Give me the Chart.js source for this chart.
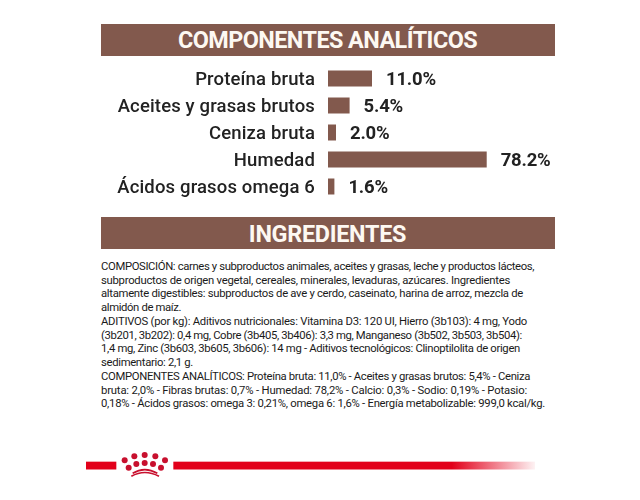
<!DOCTYPE html>
<html lang="es">
<head>
<meta charset="utf-8">
<script src="https://cdn.jsdelivr.net/npm/chart.js@4"></script>
<style>
  html, body { margin: 0; padding: 0; background: #fff; width: 640px; height: 500px; overflow: hidden; }
  .band {
    position: absolute; left: 100.5px; width: 454px; background: #82594d; color: #fdf8f2;
    font: 700 23.4px Roboto, sans-serif; text-align: center;
  }
  #band1 { top: 23.5px; height: 32px; line-height: 33px; letter-spacing: -0.55px; }
  #band2 { top: 217px; height: 31.5px; line-height: 34px; letter-spacing: -0.3px; }
  #chartBox { position: absolute; left: 0; top: 65px; width: 640px; height: 135px; }
  #ingredients {
    position: absolute; left: 101px; top: 260px; color: #1a1a1a;
    font: 400 11.3px/13.73px Roboto, sans-serif; white-space: nowrap;
  }
  #ingredients span { display: table; }
  #footer { position: absolute; left: 70px; top: 430px; }
</style>
</head>
<body>
<div class="band" id="band1"></div>
<div id="chartBox"><canvas id="chart"></canvas></div>
<div class="band" id="band2"></div>
<div id="ingredients"></div>
<svg id="footer" width="480" height="60" viewBox="0 0 1440 180">
  <defs>
    <linearGradient id="fade" x1="310" x2="1395" y1="0" y2="0" gradientUnits="userSpaceOnUse">
      <stop offset="0" stop-color="#e2001a"/>
      <stop offset="0.77" stop-color="#e2001a"/>
      <stop offset="1" stop-color="#e2001a" stop-opacity="0.05"/>
    </linearGradient>
  </defs>
  <rect x="48" y="95" width="91" height="23.5" fill="#e2001a"/>
  <rect x="310" y="95" width="1085" height="23.5" fill="url(#fade)"/>
  <g fill="#c8102e">
    <circle cx="164" cy="91" r="9"/><circle cx="193" cy="79" r="9"/><circle cx="224" cy="75" r="9"/>
    <circle cx="256" cy="79" r="9"/><circle cx="285" cy="91" r="9"/>
    <circle cx="176" cy="113" r="9"/><circle cx="199" cy="102" r="9"/><circle cx="224" cy="99" r="9"/>
    <circle cx="249" cy="102" r="9"/><circle cx="273" cy="113" r="9"/>
  </g>
  <g fill="none" stroke="#c8102e" stroke-width="5">
    <path d="M188 130 Q224 108 262 130"/>
    <path d="M184 139 Q224 116 267 139"/>
  </g>
</svg>
<script>
const titleTop = "COMPONENTES ANALÍTICOS";
const titleBottom = "INGREDIENTES";
const categories = ["Proteína bruta", "Aceites y grasas brutos", "Ceniza bruta", "Humedad", "Ácidos grasos omega 6"];
const values = [11.0, 5.4, 2.0, 78.2, 1.6];
const valueLabels = ["11.0%", "5.4%", "2.0%", "78.2%", "1.6%"];
const ingredientLines = [
  "COMPOSICIÓN: carnes y subproductos animales, aceites y grasas, leche y productos lácteos,",
  "subproductos de origen vegetal, cereales, minerales, levaduras, azúcares. Ingredientes",
  "altamente digestibles: subproductos de ave y cerdo, caseinato, harina de arroz, mezcla de",
  "almidón de maíz.",
  "ADITIVOS (por kg): Aditivos nutricionales: Vitamina D3: 120 UI, Hierro (3b103): 4 mg, Yodo",
  "(3b201, 3b202): 0,4 mg, Cobre (3b405, 3b406): 3,3 mg, Manganeso (3b502, 3b503, 3b504):",
  "1,4 mg, Zinc (3b603, 3b605, 3b606): 14 mg - Aditivos tecnológicos: Clinoptilolita de origen",
  "sedimentario: 2,1 g.",
  "COMPONENTES ANALÍTICOS: Proteína bruta: 11,0% - Aceites y grasas brutos: 5,4% - Ceniza",
  "bruta: 2,0% - Fibras brutas: 0,7% - Humedad: 78,2% - Calcio: 0,3% - Sodio: 0,19% - Potasio:",
  "0,18% - Ácidos grasos: omega 3: 0,21%, omega 6: 1,6% - Energía metabolizable: 999,0 kcal/kg."
];
// pixel width of each text line in the original, the font here is wider than theirs
const lineWidths = [433, 409, 422, 80, 426, 421, 419, 92, 429, 426, 444];

document.getElementById("band1").textContent = titleTop;
document.getElementById("band2").textContent = titleBottom;

const textBox = document.getElementById("ingredients");
ingredientLines.forEach((line, i) => {
  const span = document.createElement("span");
  span.textContent = line;
  textBox.appendChild(span);
  const extra = lineWidths[i] - span.getBoundingClientRect().width;
  span.style.letterSpacing = (extra / line.length).toFixed(3) + "px";
});

// the original bars are not to scale: the long one is squeezed above 11%
function squeeze(v) {
  return v <= 11 ? v * 4 : 44 + (v - 11) * 1.707;
}

class SqueezedScale extends Chart.LinearScale {
  getPixelForValue(value) {
    return super.getPixelForValue(squeeze(value));
  }
}
SqueezedScale.id = "squeezed";
SqueezedScale.defaults = Chart.LinearScale.defaults;
Chart.register(SqueezedScale);

const labelFont = { family: "Roboto, sans-serif", size: 18.5, weight: "500" };

const spacingPlugin = {
  id: "spacing",
  beforeDraw(chart) {
    chart.ctx.letterSpacing = "0.15px";
  }
};

const valueLabelPlugin = {
  id: "valueLabels",
  afterDatasetsDraw(chart) {
    const { ctx } = chart;
    ctx.save();
    ctx.font = "700 18.5px Roboto, sans-serif";
    ctx.letterSpacing = "-0.2px";
    ctx.fillStyle = "#222";
    ctx.textBaseline = "middle";
    chart.getDatasetMeta(0).data.forEach((bar, i) => {
      ctx.fillText(valueLabels[i], bar.x + 14, bar.y + 2);
    });
    ctx.restore();
  }
};

new Chart(document.getElementById("chart"), {
  type: "bar",
  data: {
    labels: categories,
    datasets: [{
      data: values,
      backgroundColor: "#82594d",
      categoryPercentage: 1,
      barPercentage: 16 / 27
    }]
  },
  options: {
    indexAxis: "y",
    animation: false,
    responsive: true,
    maintainAspectRatio: false,
    layout: { padding: { right: 86 } },
    plugins: { legend: { display: false }, tooltip: { enabled: false } },
    scales: {
      x: { type: "squeezed", display: false, min: 0, max: 226 },
      y: {
        grid: { display: false, drawTicks: false },
        border: { display: false },
        afterFit(scale) {
          scale.width = 328;
          // tick padding also eats the height otherwise
          scale.paddingTop = 0;
          scale.paddingBottom = 0;
        },
        ticks: { color: "#222", font: labelFont, padding: 13, labelOffset: 2 }
      }
    }
  },
  plugins: [spacingPlugin, valueLabelPlugin]
});
</script>
</body>
</html>
